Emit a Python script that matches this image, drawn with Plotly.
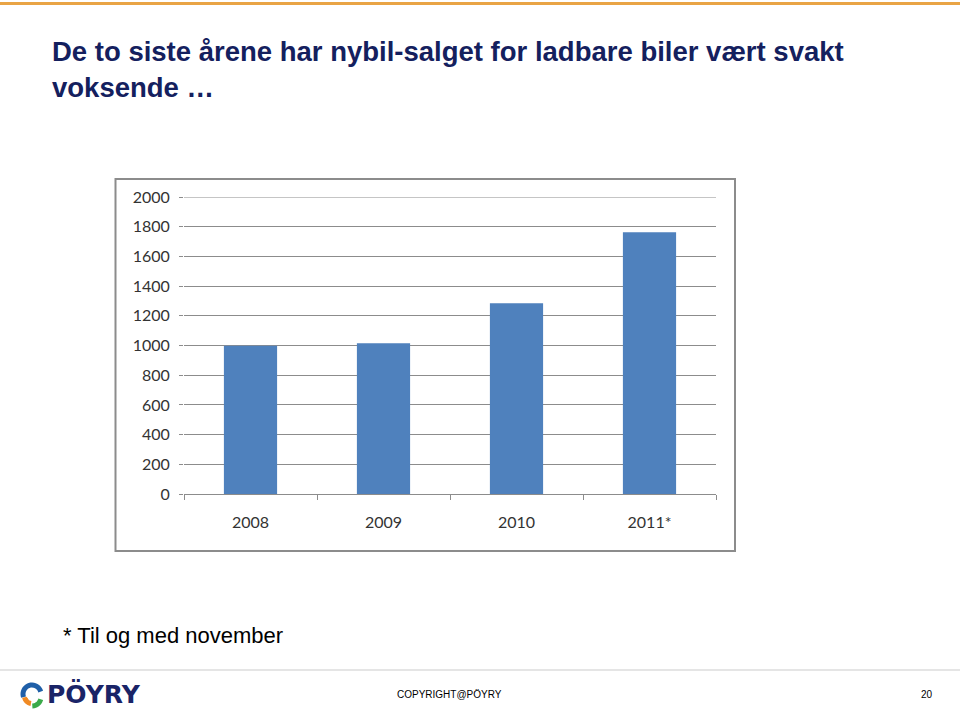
import plotly.graph_objects as go

categories = ["2008", "2009", "2010", "2011*"]
values = [998, 1015, 1285, 1762]
y_ticks = [0, 200, 400, 600, 800, 1000, 1200, 1400, 1600, 1800, 2000]

W, H = 960, 711
L, R, T, B = 184, 716, 197, 494  # plot area in pixels

def px(x):
    return (x - L) / (R - L)

def py(y):
    return (B - y) / (B - T)

fig = go.Figure()
fig.add_trace(go.Bar(
    x=categories, y=values,
    marker=dict(color="#4F81BD", line=dict(width=0)),
    width=0.4,
    hoverinfo="x+y",
))

shapes = []
# top orange line
shapes.append(dict(type="line", xref="paper", yref="paper", x0=px(0), x1=px(960), y0=py(3.5), y1=py(3.5),
                   line=dict(color="#E9A445", width=3)))
# chart frame
shapes.append(dict(type="rect", xref="paper", yref="paper", x0=px(115.5), x1=px(735), y0=py(179), y1=py(551),
                   line=dict(color="#8C8C8C", width=2), fillcolor="rgba(0,0,0,0)", layer="below"))
# footer line
shapes.append(dict(type="line", xref="paper", yref="paper", x0=px(0), x1=px(960), y0=py(670), y1=py(670),
                   line=dict(color="#DCDCDC", width=1.5)))
# top gridline at 2000
shapes.append(dict(type="line", xref="paper", yref="y", x0=0, x1=1, y0=2000, y1=2000,
                   line=dict(color="#8C8C8C", width=1), layer="below"))

# logo swirl (approximate)
def arc_path(cx, cy, r, a0, a1, n=20):
    import math
    pts = []
    for i in range(n + 1):
        a = math.radians(a0 + (a1 - a0) * i / n)
        pts.append((px(cx + r * math.cos(a)), py(cy - r * math.sin(a))))
    return "M " + " L ".join(f"{x},{y}" for x, y in pts)

shapes.append(dict(type="path", xref="paper", yref="paper", path=arc_path(32, 694, 9, 15, 200),
                   line=dict(color="#1F5FA8", width=5)))
shapes.append(dict(type="path", xref="paper", yref="paper", path=arc_path(32, 696, 7.5, 190, 262),
                   line=dict(color="#F08A24", width=5)))
shapes.append(dict(type="path", xref="paper", yref="paper", path=arc_path(32, 697, 9, 272, 345),
                   line=dict(color="#3BAA4A", width=5)))

annotations = [
    dict(text="<b>De to siste årene har nybil-salget for ladbare biler vært svakt<br>voksende …</b>",
         xref="paper", yref="paper", x=px(50), y=py(34), xanchor="left", yanchor="top",
         align="left", showarrow=False,
         font=dict(family="Liberation Sans, Arial", size=27.5, color="#14205E")),
    dict(text="* Til og med november", xref="paper", yref="paper", x=px(61), y=py(635),
         xanchor="left", yanchor="middle", showarrow=False,
         font=dict(family="Liberation Sans, Arial", size=22, color="#000000")),
    dict(text="<b>PÖYRY</b>", xref="paper", yref="paper", x=px(45), y=py(694),
         xanchor="left", yanchor="middle", showarrow=False,
         font=dict(family="DejaVu Sans, Liberation Sans", size=25, color="#1A2467")),
    dict(text="COPYRIGHT@PÖYRY", xref="paper", yref="paper", x=px(395), y=py(694),
         xanchor="left", yanchor="middle", showarrow=False,
         font=dict(family="Liberation Sans, Arial", size=10, color="#000000")),
    dict(text="20", xref="paper", yref="paper", x=px(935), y=py(694),
         xanchor="right", yanchor="middle", showarrow=False,
         font=dict(family="Liberation Sans, Arial", size=10, color="#000000")),
]

fig.update_layout(
    width=W, height=H,
    margin=dict(l=L, r=W - R, t=T, b=H - B, pad=0),
    paper_bgcolor="white", plot_bgcolor="white",
    showlegend=False,
    shapes=shapes,
    annotations=annotations,
    bargap=0.6,
)
fig.update_xaxes(
    type="category",
    showline=True, linecolor="#8C8C8C", linewidth=1,
    ticks="outside", tickson="boundaries", ticklen=5, tickcolor="#8C8C8C",
    showgrid=False,
    tickfont=dict(family="Lato, Carlito, sans-serif", size=16, color="#333333"),
    ticklabelstandoff=14,
    fixedrange=True,
)
fig.update_yaxes(
    range=[0, 2000], tickvals=y_ticks,
    showline=False, ticks="outside", ticklen=4, tickcolor="#8C8C8C",
    showgrid=True, gridcolor="#8C8C8C", gridwidth=1,
    zeroline=False,
    tickfont=dict(family="Lato, Carlito, sans-serif", size=16, color="#333333"),
    ticklabelstandoff=6,
    fixedrange=True,
)

fig.write_html("out.html")
